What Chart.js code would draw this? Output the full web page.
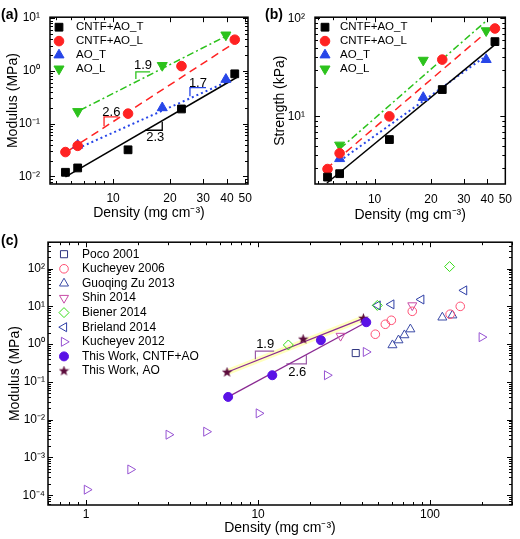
<!DOCTYPE html>
<html>
<head>
<meta charset="utf-8">
<script src="https://cdn.jsdelivr.net/npm/chart.js@4.4.1/dist/chart.umd.min.js"></script>
<style>
  body { margin: 0; background: #fff; width: 520px; height: 539px; position: relative; overflow: hidden; }
  canvas { position: absolute; }
</style>
</head>
<body>
<canvas id="chartA" width="260" height="232" style="left:0;top:0"></canvas>
<canvas id="chartB" width="260" height="232" style="left:260px;top:0"></canvas>
<canvas id="chartC" width="520" height="307" style="left:0;top:232px"></canvas>
<script>
// ---- (a) / (b): this work, density in mg cm-3
const densCNTF = [5.6, 6.5, 12, 23, 44];
const densAO = [6.5, 18.2, 39.5];
const modCNTF_T = [0.012, 0.0145, 0.032, 0.19, 0.88];
const modCNTF_L = [0.029, 0.038, 0.155, 1.23, 3.9];
const modAO_T = [0.039, 0.2, 0.69];
const modAO_L = [0.17, 1.27, 4.8];
const strCNTF_T = [2.4, 2.6, 5.8, 18.8, 58];
const strCNTF_L = [2.9, 4.2, 10, 38, 79];
const strAO_T = [3.7, 15.6, 38];
const strAO_L = [5.1, 37.5, 75];

// fitted power laws, [x, y] end points
const fitModCNTF_T = [[5.6, 0.0098], [45, 0.75]];
const fitModCNTF_L = [[5.9, 0.032], [45, 3.6]];
const fitModAO_T = [[6.5, 0.034], [41.6, 0.66]];
const fitModAO_L = [[6.7, 0.18], [41.6, 5.0]];
const fitStrCNTF_T = [[5.56, 2.09], [43.7, 53.5]];
const fitStrCNTF_L = [[5.5, 2.9], [43.7, 85]];
const fitStrAO_T = [[6.5, 3.5], [37.9, 39.3]];
const fitStrAO_L = [[6.56, 4.72], [39.7, 95]];

// slope triangles in (a)
const slopeAO_L = [[13.2, 0.70], [13.2, 0.96], [15.7, 0.96]];
const slopeCNTF_L = [[8.96, 0.0895], [8.96, 0.135], [10.67, 0.135]];
const slopeAO_T = [[25.5, 0.33], [25.5, 0.48], [31, 0.48]];
const slopeCNTF_T = [[14.8, 0.075], [18.2, 0.075], [18.2, 0.109]];

// ---- (c): literature comparison
const pocoX = [37], pocoY = [0.58];
const kuch06X = [48.1, 55, 59.6, 78.9, 131, 150];
const kuch06Y = [1.83, 3.36, 4.28, 7.4, 6.2, 10];
const zuX = [60.5, 65.6, 71, 76.9, 118, 135];
const zuY = [0.94, 1.27, 1.73, 2.48, 5.1, 5.8];
const shinX = [30.2, 78.9];
const shinY = [1.65, 10.6];
const bienerX = [15, 49.4, 130];
const bienerY = [0.95, 10.6, 113];
const brielandX = [49.6, 59.6, 89, 158];
const brielandY = [10.6, 11.3, 15.2, 26.5];
const kuch12X = [1.01, 1.81, 3.02, 5.0, 10.1, 25.2, 42.4, 200];
const kuch12Y = [1.4e-4, 4.8e-4, 4.0e-3, 4.8e-3, 0.0147, 0.15, 0.62, 1.53];
const workCNTFX = [6.7, 12.1, 23.2, 42.6];
const workCNTFY = [0.04, 0.15, 1.27, 3.8];
const workAOX = [6.6, 18.3, 41];
const workAOY = [0.18, 1.35, 4.8];
const fitWorkAO = [[6.6, 0.18], [41, 4.8]];
const fitWorkCNTF = [[6.7, 0.04], [42.6, 3.8]];
const slopeWorkAO = [[9.65, 0.40], [9.65, 0.65], [12.4, 0.65]];
const slopeWorkCNTF = [[14.6, 0.30], [19.1, 0.30], [19.1, 0.51]];

const FONT = "'Liberation Sans', Arial, sans-serif";
Chart.defaults.font.family = FONT;
Chart.defaults.color = '#000';

const SUP = {'-': '\u207B', '0': '\u2070', '1': '\u00B9', '2': '\u00B2', '3': '\u00B3', '4': '\u2074'};
const pow10 = v => '10' + String(Math.round(Math.log10(v))).split('').map(c => SUP[c]).join('');

const pts = (xs, ys) => xs.map((v, i) => ({x: v, y: ys[i]}));
const pairs = p => p.map(q => ({x: q[0], y: q[1]}));

function logSteps(lo, hi) {
  const out = [];
  for (let e = Math.floor(Math.log10(lo)); e <= Math.ceil(Math.log10(hi)); e++) {
    for (let m = 1; m < 10; m++) {
      const v = m * Math.pow(10, e);
      if (v >= lo && v <= hi) out.push(v);
    }
  }
  return out;
}
const isIn = (list, v) => list.some(m => Math.abs(m / v - 1) < 1e-6);

function marks(label, xs, ys, style, color, fill, r, rot) {
  return {
    label, data: pts(xs, ys), legend: true, showLine: false,
    pointStyle: style, pointRotation: rot || 0, pointRadius: r,
    borderColor: color, backgroundColor: fill ? color : 'rgba(0,0,0,0)', pointBorderWidth: 1
  };
}
function path(p, color, width, dash) {
  return {
    data: pairs(p), legend: false, showLine: true, pointRadius: 0,
    borderColor: color, borderWidth: width, borderDash: dash || [], backgroundColor: color
  };
}

function axis(pos, min, max, labels, fmt, title, size, tickPad, titlePad) {
  return {
    type: 'logarithmic', position: pos, min, max,
    grid: {display: false, drawTicks: false},
    border: {display: false},
    afterBuildTicks: s => { s.ticks = labels.map(v => ({value: v})); },
    afterFit: s => { if (pos === 'bottom') s.height = size; else s.width = size; },
    ticks: {autoSkip: false, maxRotation: 0, padding: tickPad, font: {size: 12}, callback: fmt},
    title: {display: true, text: title, font: {size: 14}, padding: titlePad}
  };
}

// frame with inward ticks on all four sides, legend, slope labels, panel tag
const frame = {
  id: 'frame',
  afterDatasetsDraw(chart, args, o) {
    const {ctx, chartArea: a} = chart;
    const sx = chart.scales.x, sy = chart.scales.y;
    ctx.save();
    ctx.strokeStyle = '#000';
    ctx.lineWidth = 1;
    const seg = (x1, y1, x2, y2) => { ctx.beginPath(); ctx.moveTo(x1, y1); ctx.lineTo(x2, y2); ctx.stroke(); };
    logSteps(sx.min, sx.max).forEach(v => {
      const len = isIn(o.xMajor, v) ? 5 : 3;
      const p = Math.round(sx.getPixelForValue(v)) + 0.5;
      seg(p, a.bottom, p, a.bottom - len);
      seg(p, a.top, p, a.top + len);
    });
    logSteps(sy.min, sy.max).forEach(v => {
      const len = isIn(o.yMajor, v) ? 5 : 3;
      const p = Math.round(sy.getPixelForValue(v)) + 0.5;
      seg(a.left, p, a.left + len, p);
      seg(a.right, p, a.right - len, p);
    });
    ctx.lineWidth = 1.5;
    ctx.strokeRect(a.left, a.top, a.right - a.left, a.bottom - a.top);

    const L = o.legend;
    ctx.font = L.font;
    ctx.textBaseline = 'middle';
    ctx.textAlign = 'left';
    chart.data.datasets.filter(d => d.legend).forEach((d, i) => {
      const y = a.top + L.top + i * L.step;
      ctx.fillStyle = d.backgroundColor;
      ctx.strokeStyle = d.borderColor;
      ctx.lineWidth = 1;
      Chart.helpers.drawPoint(ctx, {pointStyle: d.pointStyle, rotation: d.pointRotation, radius: d.pointRadius, borderWidth: 1}, a.left + L.mark, y);
      ctx.fillStyle = '#000';
      ctx.fillText(d.label, a.left + L.text, y);
    });

    ctx.font = '13px ' + FONT;
    ctx.textAlign = 'center';
    ctx.fillStyle = '#000';
    o.notes.forEach(n => ctx.fillText(n.text, sx.getPixelForValue(n.at[0]), sy.getPixelForValue(n.at[1])));

    ctx.font = 'bold 14px ' + FONT;
    ctx.textAlign = 'left';
    ctx.fillText(o.tag.text, o.tag.x, o.tag.y);
    ctx.restore();
  }
};

function starImage(size, color) {
  const c = document.createElement('canvas');
  c.width = c.height = size;
  const g = c.getContext('2d');
  g.fillStyle = color;
  g.beginPath();
  for (let i = 0; i < 10; i++) {
    const r = i % 2 ? size * 0.21 : size * 0.5;
    const ang = -Math.PI / 2 + i * Math.PI / 5;
    g.lineTo(size / 2 + r * Math.cos(ang), size / 2 + r * Math.sin(ang));
  }
  g.closePath();
  g.fill();
  return c;
}

function makeChart(id, datasets, cfg) {
  return new Chart(document.getElementById(id), {
    type: 'scatter',
    data: {datasets},
    options: {
      responsive: false, animation: false, events: [],
      layout: {padding: cfg.pad},
      plugins: {legend: {display: false}, tooltip: {enabled: false}, frame: cfg.frame},
      scales: {x: cfg.x, y: cfg.y}
    },
    plugins: [frame]
  });
}

const BLACK = '#000000', RED = '#ff2222', BLUE = '#2746e8', GREEN = '#2cc21c';
const xTicksAB = [10, 20, 30, 40, 50];
const legendAB = {top: 10, step: 13.9, font: '11.5px ' + FONT};

// ---- (a)
makeChart('chartA', [
  marks('CNTF+AO_T', densCNTF, modCNTF_T, 'rect', BLACK, true, 5.5),
  marks('CNTF+AO_L', densCNTF, modCNTF_L, 'circle', RED, true, 4.8),
  marks('AO_T', densAO, modAO_T, 'triangle', BLUE, true, 5.8),
  marks('AO_L', densAO, modAO_L, 'triangle', GREEN, true, 5.8, 180),
  path(fitModCNTF_T, BLACK, 1.5),
  path(fitModCNTF_L, RED, 1.5, [8, 5]),
  path(fitModAO_T, BLUE, 2, [2, 3]),
  path(fitModAO_L, GREEN, 1.5, [7, 3, 2, 3]),
  path(slopeAO_L, GREEN, 1.3),
  path(slopeCNTF_L, RED, 1.3),
  path(slopeAO_T, BLUE, 1.3),
  path(slopeCNTF_T, BLACK, 1.3)
], {
  pad: {left: 0, right: 12, top: 6, bottom: 0},
  x: axis('bottom', 4.64, 51.7, xTicksAB, v => String(v), 'Density (mg cm\u207B\u00B3)', 48, 7, {top: 0, bottom: 10.6}),
  y: axis('left', 0.0072, 10.4, [0.01, 0.1, 1, 10], pow10, 'Modulus (MPa)', 50, 10, {top: 4.6, bottom: 0}),
  frame: {
    xMajor: xTicksAB, yMajor: [0.01, 0.1, 1, 10],
    legend: Object.assign({mark: 9, text: 26}, legendAB),
    notes: [{text: '1.9', at: [14.4, 1.28]}, {text: '2.6', at: [9.8, 0.163]},
            {text: '1.7', at: [28.1, 0.59]}, {text: '2.3', at: [16.7, 0.056]}],
    tag: {text: '(a)', x: 1, y: 15}
  }
});

// ---- (b)
makeChart('chartB', [
  marks('CNTF+AO_T', densCNTF, strCNTF_T, 'rect', BLACK, true, 5.5),
  marks('CNTF+AO_L', densCNTF, strCNTF_L, 'circle', RED, true, 4.8),
  marks('AO_T', densAO, strAO_T, 'triangle', BLUE, true, 5.8),
  marks('AO_L', densAO, strAO_L, 'triangle', GREEN, true, 5.8, 180),
  path(fitStrCNTF_T, BLACK, 1.5),
  path(fitStrCNTF_L, RED, 1.5, [8, 5]),
  path(fitStrAO_T, BLUE, 2, [2, 3]),
  path(fitStrAO_L, GREEN, 1.5, [7, 3, 2, 3])
], {
  pad: {left: 0, right: 8, top: 6, bottom: 0},
  x: axis('bottom', 4.8, 50, xTicksAB, v => String(v), 'Density (mg cm\u207B\u00B3)', 48, 8, {top: 0, bottom: 8.6}),
  y: axis('left', 2.04, 103, [10, 100], pow10, 'Strength (kPa)', 55, 10, {top: 11.6, bottom: 0}),
  frame: {
    xMajor: xTicksAB, yMajor: [10, 100],
    legend: Object.assign({mark: 10, text: 25}, legendAB),
    notes: [],
    tag: {text: '(b)', x: 5, y: 15}
  }
});

// ---- (c)
const NAVY = '#2f3580', PINK = '#ff4f73', ZU = '#3b4aa6', SHIN = '#c84aa6', BIENER = '#38dd1a',
      BRIEL = '#2e3ea6', K12 = '#9652d2', WORK = '#5a12e6', WORKAO = '#5c0c3c', FITC = '#8a2a92';
makeChart('chartC', [
  marks('Poco 2001', pocoX, pocoY, 'rect', NAVY, false, 5),
  marks('Kucheyev 2006', kuch06X, kuch06Y, 'circle', PINK, false, 4.3),
  marks('Guoqing Zu 2013', zuX, zuY, 'triangle', ZU, false, 5.2),
  marks('Shin 2014', shinX, shinY, 'triangle', SHIN, false, 5.2, 180),
  marks('Biener 2014', bienerX, bienerY, 'rectRot', BIENER, false, 5),
  marks('Brieland 2014', brielandX, brielandY, 'triangle', BRIEL, false, 5.2, 270),
  marks('Kucheyev 2012', kuch12X, kuch12Y, 'triangle', K12, false, 5.2, 90),
  marks('This Work, CNTF+AO', workCNTFX, workCNTFY, 'circle', WORK, true, 4.5),
  marks('This Work, AO', workAOX, workAOY, starImage(11, WORKAO), WORKAO, true, 5),
  path(fitWorkAO, FITC, 1.3),
  path(fitWorkCNTF, FITC, 1.3),
  path(slopeWorkAO, '#9a5aa6', 1.2),
  path(slopeWorkCNTF, '#9a5aa6', 1.2),
  path(fitWorkAO, 'rgba(255,255,185,0.95)', 6)
], {
  pad: {left: 0, right: 8, top: 8, bottom: 0},
  x: axis('bottom', 0.6, 300, [1, 10, 100], v => String(v), 'Density (mg cm\u207B\u00B3)', 34, 2, {top: 0, bottom: 2.6}),
  y: axis('left', 5.5e-5, 500, [1e-4, 1e-3, 1e-2, 0.1, 1, 10, 100], pow10, 'Modulus (MPa)', 48, 3, {top: 6.6, bottom: 0}),
  frame: {
    xMajor: [1, 10, 100], yMajor: [1e-4, 1e-3, 1e-2, 0.1, 1, 10, 100],
    legend: {mark: 16, text: 34, top: 12, step: 14.6, font: '12px ' + FONT},
    notes: [{text: '1.9', at: [11.0, 0.96]}, {text: '2.6', at: [16.9, 0.183]}],
    tag: {text: '(c)', x: 1, y: 9}
  }
});
</script>
</body>
</html>
